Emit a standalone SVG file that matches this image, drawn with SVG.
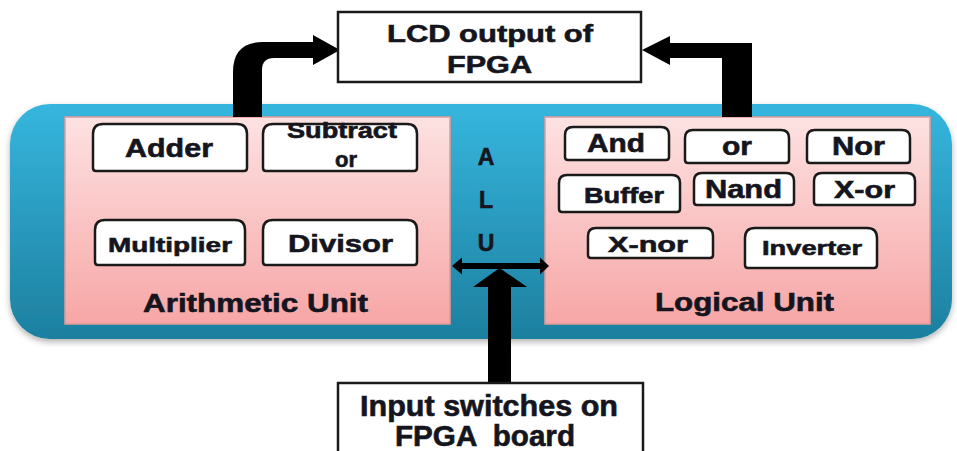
<svg xmlns="http://www.w3.org/2000/svg" width="957" height="451" viewBox="0 0 957 451">
<defs>
<linearGradient id="blueGrad" x1="0" y1="0" x2="0" y2="1">
<stop offset="0" stop-color="#36b6de"/>
<stop offset="1" stop-color="#1d7f9f"/>
</linearGradient>
<linearGradient id="pinkGrad" x1="0" y1="0" x2="0" y2="1">
<stop offset="0" stop-color="#fde2e2"/>
<stop offset="1" stop-color="#f7a6a6"/>
</linearGradient>
<filter id="shadow" x="-5%" y="-5%" width="110%" height="115%">
<feDropShadow dx="0" dy="3" stdDeviation="3" flood-color="#000" flood-opacity="0.3"/>
</filter>
</defs>
<style>
.t{font-family:"Liberation Sans",Arial,sans-serif;font-weight:bold;fill:#151520;stroke:#151520;stroke-width:0.6}
.box{fill:#fff;stroke:#1a1a1a;stroke-width:2.5}
.frame{fill:#fff;stroke:#1a1a1a;stroke-width:2.5}
.unit{fill:url(#pinkGrad);stroke:#e39a9a;stroke-width:1.5}
.conn{fill:#000}
</style>
<rect width="957" height="451" fill="#fff"/>
<g id="alu">
<rect x="10" y="104" width="942" height="235" rx="40" fill="url(#blueGrad)" filter="url(#shadow)"/>
<text class="t" x="486" y="165" font-size="23" text-anchor="middle">A</text>
<text class="t" x="486" y="208" font-size="23" text-anchor="middle">L</text>
<text class="t" x="486" y="251" font-size="23" text-anchor="middle">U</text>
</g>
<g id="arithmetic-unit">
<rect class="unit" x="65" y="117" width="385" height="207"/>
<text class="t" x="143" y="312" font-size="26" textLength="225" lengthAdjust="spacingAndGlyphs">Arithmetic Unit</text>
</g>
<g id="logical-unit">
<rect class="unit" x="545" y="117" width="385" height="207"/>
<text class="t" x="655" y="311" font-size="25" textLength="179" lengthAdjust="spacingAndGlyphs">Logical Unit</text>
</g>
<g id="adder">
<path class="box" d="M93,168 L93,134 Q93,124 103,124 L237,124 Q247,124 247,134 L247,168 Q247,171 244,171 L96,171 Q93,171 93,168Z"/>
<text class="t" x="125" y="157" font-size="26" textLength="88" lengthAdjust="spacingAndGlyphs">Adder</text>
</g>
<g id="subtractor">
<path class="box" d="M263,168 L263,134 Q263,124 273,124 L407,124 Q417,124 417,134 L417,168 Q417,171 414,171 L266,171 Q263,171 263,168Z"/>
<text class="t" x="287" y="138" font-size="22" textLength="110" lengthAdjust="spacingAndGlyphs">Subtract</text>
<text class="t" x="335" y="167" font-size="22" textLength="22" lengthAdjust="spacingAndGlyphs">or</text>
</g>
<g id="multiplier">
<path class="box" d="M95,262 L95,230 Q95,220 105,220 L235,220 Q245,220 245,230 L245,262 Q245,265 242,265 L98,265 Q95,265 95,262Z"/>
<text class="t" x="108" y="252" font-size="21" textLength="124" lengthAdjust="spacingAndGlyphs">Multiplier</text>
</g>
<g id="divisor">
<path class="box" d="M263,262 L263,230 Q263,220 273,220 L407,220 Q417,220 417,230 L417,262 Q417,265 414,265 L266,265 Q263,265 263,262Z"/>
<text class="t" x="288" y="252" font-size="24" textLength="105" lengthAdjust="spacingAndGlyphs">Divisor</text>
</g>
<g id="and">
<path class="box" d="M565,157 L565,135 Q565,127 573,127 L661,127 Q669,127 669,135 L669,157 Q669,160 666,160 L568,160 Q565,160 565,157Z"/>
<text class="t" x="587" y="152" font-size="25" textLength="58" lengthAdjust="spacingAndGlyphs">And</text>
</g>
<g id="or">
<path class="box" d="M685,160 L685,138 Q685,130 693,130 L781,130 Q789,130 789,138 L789,160 Q789,163 786,163 L688,163 Q685,163 685,160Z"/>
<text class="t" x="722" y="155" font-size="26" textLength="30" lengthAdjust="spacingAndGlyphs">or</text>
</g>
<g id="nor">
<path class="box" d="M807,160 L807,138 Q807,130 815,130 L902,130 Q910,130 910,138 L910,160 Q910,163 907,163 L810,163 Q807,163 807,160Z"/>
<text class="t" x="832" y="155" font-size="25" textLength="53" lengthAdjust="spacingAndGlyphs">Nor</text>
</g>
<g id="buffer">
<path class="box" d="M559,209 L559,183 Q559,175 567,175 L672,175 Q680,175 680,183 L680,209 Q680,212 677,212 L562,212 Q559,212 559,209Z"/>
<text class="t" x="584" y="203" font-size="22" textLength="80" lengthAdjust="spacingAndGlyphs">Buffer</text>
</g>
<g id="nand">
<path class="box" d="M694,202 L694,181 Q694,173 702,173 L786,173 Q794,173 794,181 L794,202 Q794,205 791,205 L697,205 Q694,205 694,202Z"/>
<text class="t" x="705" y="198" font-size="25" textLength="77" lengthAdjust="spacingAndGlyphs">Nand</text>
</g>
<g id="xor">
<path class="box" d="M814,202 L814,181 Q814,173 822,173 L907,173 Q915,173 915,181 L915,202 Q915,205 912,205 L817,205 Q814,205 814,202Z"/>
<text class="t" x="834" y="198" font-size="23" textLength="61" lengthAdjust="spacingAndGlyphs">X-or</text>
</g>
<g id="xnor">
<path class="box" d="M588,255 L588,236 Q588,228 596,228 L705,228 Q713,228 713,236 L713,255 Q713,258 710,258 L591,258 Q588,258 588,255Z"/>
<text class="t" x="608" y="252" font-size="22" textLength="80" lengthAdjust="spacingAndGlyphs">X-nor</text>
</g>
<g id="inverter">
<path class="box" d="M745,265 L745,238 Q745,228 755,228 L867,228 Q877,228 877,238 L877,265 Q877,268 874,268 L748,268 Q745,268 745,265Z"/>
<text class="t" x="762" y="255" font-size="21" textLength="100" lengthAdjust="spacingAndGlyphs">Inverter</text>
</g>
<g id="connectors">
<path class="conn" d="M233,117 L233,72 Q233,42 263,42 L313,42 L313,35 L340,50 L313,65 L313,58 L274,58 Q262,58 262,70 L262,117 Z"/>
<path class="conn" d="M722,117 L722,58 L670,58 L670,65 L642,50 L670,36 L670,43 L752,43 L752,117 Z"/>
<path class="conn" d="M452,266 L462,257.5 L462,263 L540,263 L540,257.5 L549,266 L540,274.5 L540,269 L462,269 L462,274.5 Z"/>
<path class="conn" d="M488,384 L488,287 L473,287 L499.5,268 L527,287 L511,287 L511,384 Z"/>
</g>
<g id="lcd-output">
<rect class="frame" x="338" y="12" width="303" height="70"/>
<text class="t" x="387" y="42" font-size="24" textLength="206" lengthAdjust="spacingAndGlyphs">LCD output of</text>
<text class="t" x="447" y="73" font-size="24" textLength="85" lengthAdjust="spacingAndGlyphs">FPGA</text>
</g>
<g id="input-switches">
<rect class="frame" x="338" y="383" width="305" height="80"/>
<text class="t" x="360" y="416" font-size="29" textLength="258" lengthAdjust="spacingAndGlyphs">Input switches on</text>
<text class="t" x="395" y="446" font-size="29" textLength="180" lengthAdjust="spacingAndGlyphs" style="white-space:pre">FPGA  board</text>
</g>
</svg>
